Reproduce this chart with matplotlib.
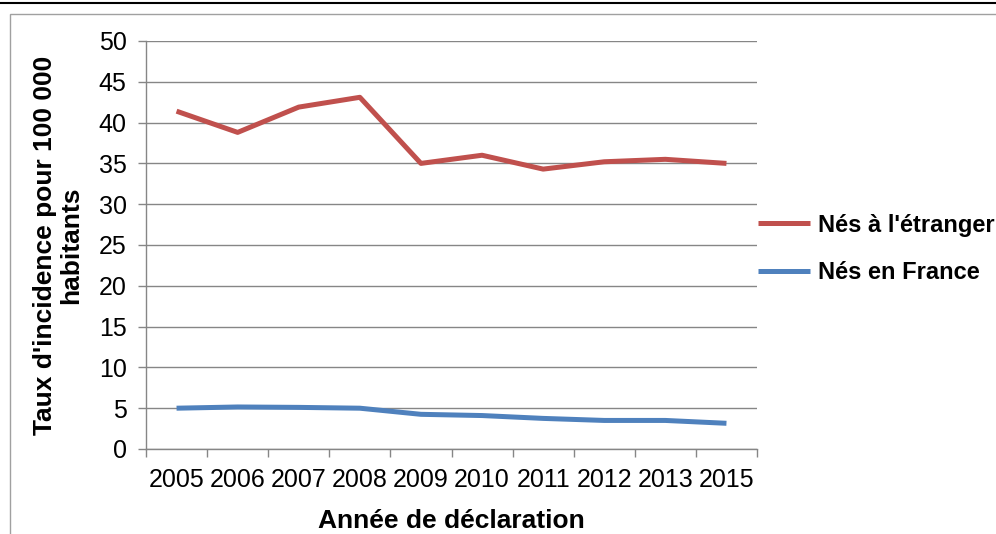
import matplotlib
matplotlib.use("Agg")
import matplotlib.pyplot as plt
from matplotlib.lines import Line2D
from matplotlib.patches import Rectangle

years = ["2005", "2006", "2007", "2008", "2009", "2010", "2011", "2012", "2013", "2015"]
nes_etranger = [41.4, 38.8, 41.9, 43.1, 35.0, 36.0, 34.3, 35.2, 35.5, 35.0]
nes_france = [5.0, 5.15, 5.1, 5.0, 4.25, 4.1, 3.75, 3.5, 3.5, 3.15]
yticks = [0, 5, 10, 15, 20, 25, 30, 35, 40, 45, 50]

plt.rcParams['font.family'] = ['Liberation Sans', 'DejaVu Sans']

W, H = 996, 534
fig = plt.figure(figsize=(W / 100, H / 100), dpi=100)

# axes placement in pixels
x0, x1 = 146, 757
ytop, ybot = 41, 449
ax = fig.add_axes([x0 / W, 1 - ybot / H, (x1 - x0) / W, (ybot - ytop) / H])

grey = '#868686'
xs = list(range(len(years)))
ax.plot(xs, nes_etranger, color='#C0504D', lw=3.6, label="Nés à l'étranger", solid_capstyle='butt')
ax.plot(xs, nes_france, color='#4F81BD', lw=3.6, label='Nés en France', solid_capstyle='butt')

ax.set_xlim(-0.5, len(years) - 0.5)
ax.set_ylim(0, 50)
ax.set_yticks(yticks)
ax.set_yticklabels([str(v) for v in yticks], fontsize=18)
ax.set_xticks([i - 0.5 for i in range(len(years) + 1)], minor=False)
ax.set_xticklabels([''] * (len(years) + 1))
ax.set_xticks(xs, minor=True)
ax.set_xticklabels(years, minor=True, fontsize=18)
ax.tick_params(axis='x', which='minor', length=0, pad=14)
ax.tick_params(axis='x', which='major', length=6, color=grey, width=1)
ax.tick_params(axis='y', length=6, color=grey, width=1, pad=8)

ax.grid(axis='y', color=grey, lw=1)
ax.set_axisbelow(True)
for s in ['top', 'right']:
    ax.spines[s].set_visible(False)
for s in ['left', 'bottom']:
    ax.spines[s].set_color(grey)
    ax.spines[s].set_linewidth(1)

ax.set_xlabel('Année de déclaration', fontsize=19, fontweight='bold', labelpad=12)
ax.set_ylabel("Taux d'incidence pour 100 000\nhabitants", fontsize=19, fontweight='bold',
              labelpad=11, linespacing=1.1)

leg = ax.legend(loc='center left', frameon=False, prop={'weight': 'bold', 'size': 17},
                handlelength=2.2, handletextpad=0.35, labelspacing=1.05, borderaxespad=0.0,
                borderpad=0.0)
leg.set_bbox_to_anchor((758 / W, 1 - 249 / H), transform=fig.transFigure)

# outer decorations
fig.add_artist(Line2D([0, 1], [1 - 3 / H, 1 - 3 / H], color='black', lw=1.5, transform=fig.transFigure))
fig.add_artist(Rectangle((10 / W, -0.05), 1.0, 1 - 14 / H + 0.05, fill=False, edgecolor='#A0A0A0',
                         lw=1, transform=fig.transFigure))

fig.savefig('out.png', dpi=100)
